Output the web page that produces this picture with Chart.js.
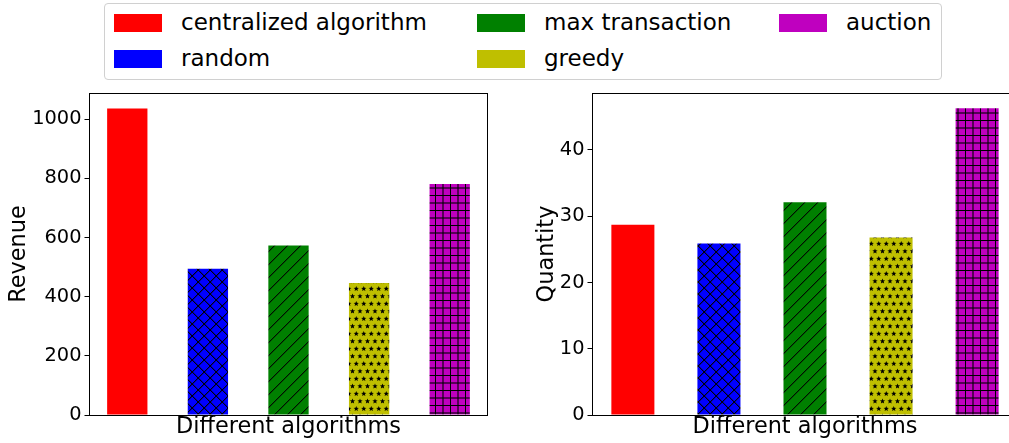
<!DOCTYPE html>
<html>
<head>
<meta charset="utf-8">
<script src="https://cdn.jsdelivr.net/npm/chart.js@4/dist/chart.umd.min.js"></script>
<style>
  html, body { margin: 0; padding: 0; background: #fff; overflow: hidden; width: 1009px; height: 443px; }
  #wrap { position: relative; width: 1009px; height: 443px; overflow: hidden; font-family: "DejaVu Sans", sans-serif; }
  #c1 { position: absolute; left: 0; top: 0; }
  #c2 { position: absolute; left: 500px; top: 0; }
  #legend { position: absolute; left: 104px; top: 3px; width: 836px; height: 75px; border: 1px solid #d0d0d0; border-radius: 4px; background: #fff; }
  .item { position: absolute; height: 20px; font-size: 23px; color: #000; white-space: nowrap; }
  .patch { position: absolute; left: 0; top: 1px; width: 48px; height: 18px; }
  .label { position: absolute; left: 67px; top: -4px; line-height: 27px; }
</style>
</head>
<body>
<div id="wrap">
  <div id="legend"></div>
  <canvas id="c1" width="500" height="443"></canvas>
  <canvas id="c2" width="530" height="443"></canvas>
</div>
<script>
const categories = ['centralized algorithm', 'random', 'max transaction', 'greedy', 'auction'];
const colors = ['#ff0000', '#0000ff', '#008000', '#bfbf00', '#bf00bf'];
const revenue = [1037, 495, 573, 446, 781];
const quantity = [28.7, 25.9, 32.1, 26.8, 46.3];
const revenueTicks = [0, 200, 400, 600, 800, 1000];
const quantityTicks = [0, 10, 20, 30, 40];

const FONT = '"DejaVu Sans", sans-serif';

// legend (HTML, real text)
const legendPos = [
  {x: 9, y: 9}, {x: 9, y: 45}, {x: 372, y: 9}, {x: 372, y: 45}, {x: 674, y: 9}
];
const legendEl = document.getElementById('legend');
categories.forEach((name, i) => {
  const it = document.createElement('div');
  it.className = 'item';
  it.style.left = legendPos[i].x + 'px';
  it.style.top = legendPos[i].y + 'px';
  const p = document.createElement('div');
  p.className = 'patch';
  p.style.background = colors[i];
  const l = document.createElement('div');
  l.className = 'label';
  l.textContent = name;
  it.appendChild(p); it.appendChild(l);
  legendEl.appendChild(it);
});

function tile(w, h, bg, draw) {
  const c = document.createElement('canvas');
  c.width = w; c.height = h;
  const g = c.getContext('2d');
  g.fillStyle = bg; g.fillRect(0, 0, w, h);
  g.fillStyle = '#000';
  draw(g, w, h);
  return c;
}
function px(g, x, y, w, a) {
  x = ((x % w) + w) % w;
  g.globalAlpha = a;
  g.fillRect(x, y, 1, 1);
  g.globalAlpha = 1;
}
function starPath(g, cx, cy, R, r) {
  g.beginPath();
  for (let k = 0; k < 10; k++) {
    const rad = k % 2 === 0 ? R : r;
    const a = -Math.PI / 2 + k * Math.PI / 5;
    const x = cx + rad * Math.cos(a), y = cy + rad * Math.sin(a);
    if (k === 0) g.moveTo(x, y); else g.lineTo(x, y);
  }
  g.closePath();
  g.fill();
}
function makePatterns(ctx) {
  const solid = colors[0];
  const cross = ctx.createPattern(tile(12, 12, colors[1], (g, w, h) => {
    for (let i = 0; i < h; i++) {
      px(g, i, i, w, 0.95); px(g, i + 1, i, w, 0.35);
      px(g, w - 1 - i, i, w, 0.95); px(g, w - i, i, w, 0.35);
    }
  }), 'repeat');
  const diag = ctx.createPattern(tile(13, 13, colors[2], (g, w, h) => {
    for (let i = 0; i < h; i++) {
      px(g, w - 1 - i, i, w, 0.9); px(g, w - i, i, w, 0.3);
    }
  }), 'repeat');
  const stars = ctx.createPattern(tile(15, 15, colors[3], (g, w, h) => {
    const s = 7.5;
    [0, 1, 2].forEach(j => starPath(g, s / 2 + j * s, s / 2, 2.8, 1.2));
    [-1, 0, 1, 2].forEach(j => starPath(g, j * s, s / 2 + s, 2.8, 1.2));
    [0, 1, 2].forEach(j => starPath(g, s / 2 + j * s, s / 2 + 2 * s, 2.8, 1.2));
  }), 'repeat');
  const grid = ctx.createPattern(tile(15, 15, colors[4], (g, w, h) => {
    g.fillRect(0, 0, 1, h);
    g.globalAlpha = 0.55; g.fillRect(7, 0, 2, h); g.globalAlpha = 1;
    g.fillRect(0, 0, w, 1);
    g.globalAlpha = 0.55; g.fillRect(0, 7, w, 2); g.globalAlpha = 1;
  }), 'repeat');
  return [solid, cross, diag, stars, grid];
}

const framePlugin = {
  id: 'frame',
  afterDraw(chart) {
    const {ctx, chartArea: a} = chart;
    ctx.save();
    ctx.strokeStyle = '#000';
    ctx.lineWidth = 1;
    ctx.strokeRect(Math.round(a.left) + 0.5, Math.round(a.top) + 0.5,
                   Math.round(a.right - a.left) - 1, Math.round(a.bottom - a.top));
    ctx.restore();
  }
};

function makeChart(canvasId, values, ymax, ticks, yTitle, yAxisWidth, yTitlePad) {
  const canvas = document.getElementById(canvasId);
  const ctx = canvas.getContext('2d');
  const fills = makePatterns(ctx);
  return new Chart(ctx, {
    type: 'bar',
    data: {
      labels: categories,
      datasets: [{
        data: values.map((v, i) => ({x: i, y: v})),
        backgroundColor: fills,
        borderWidth: 0,
        barPercentage: 0.5,
        categoryPercentage: 1.0
      }]
    },
    options: {
      responsive: false,
      animation: false,
      devicePixelRatio: 1,
      layout: { autoPadding: false, padding: { top: 93, right: 12, bottom: 0, left: 0 } },
      plugins: { legend: { display: false }, tooltip: { enabled: false } },
      scales: {
        x: {
          type: 'linear',
          offset: false,
          min: -0.475, max: 4.475,
          afterBuildTicks(s) { s.ticks = categories.map((c, i) => ({value: i})); },
          ticks: { display: false },
          grid: { display: false, offset: false },
          border: { display: false },
          title: {
            display: true, text: 'Different algorithms', color: '#000',
            font: { family: FONT, size: 22.4 }, padding: { top: 0, bottom: 2.8 }
          },
          afterFit(s) { s.height = 28; }
        },
        y: {
          type: 'linear',
          min: 0, max: ymax,
          afterBuildTicks(s) { s.ticks = ticks.map(v => ({value: v})); },
          ticks: { color: '#000', font: { family: FONT, size: 19.4 }, padding: 3, callback: v => String(v) },
          grid: { display: true, drawOnChartArea: false, drawTicks: true, tickLength: 4.5, tickColor: '#000', lineWidth: 1 },
          border: { display: false },
          title: {
            display: true, text: yTitle, color: '#000',
            font: { family: FONT, size: 22.4 }, padding: { top: yTitlePad, bottom: 0 }
          },
          afterFit(s) { s.width = yAxisWidth; }
        }
      }
    },
    plugins: [framePlugin]
  });
}

makeChart('c1', revenue, 1089, revenueTicks, 'Revenue', 89, 6);
makeChart('c2', quantity, 48.6, quantityTicks, 'Quantity', 92, 34);
</script>
</body>
</html>
